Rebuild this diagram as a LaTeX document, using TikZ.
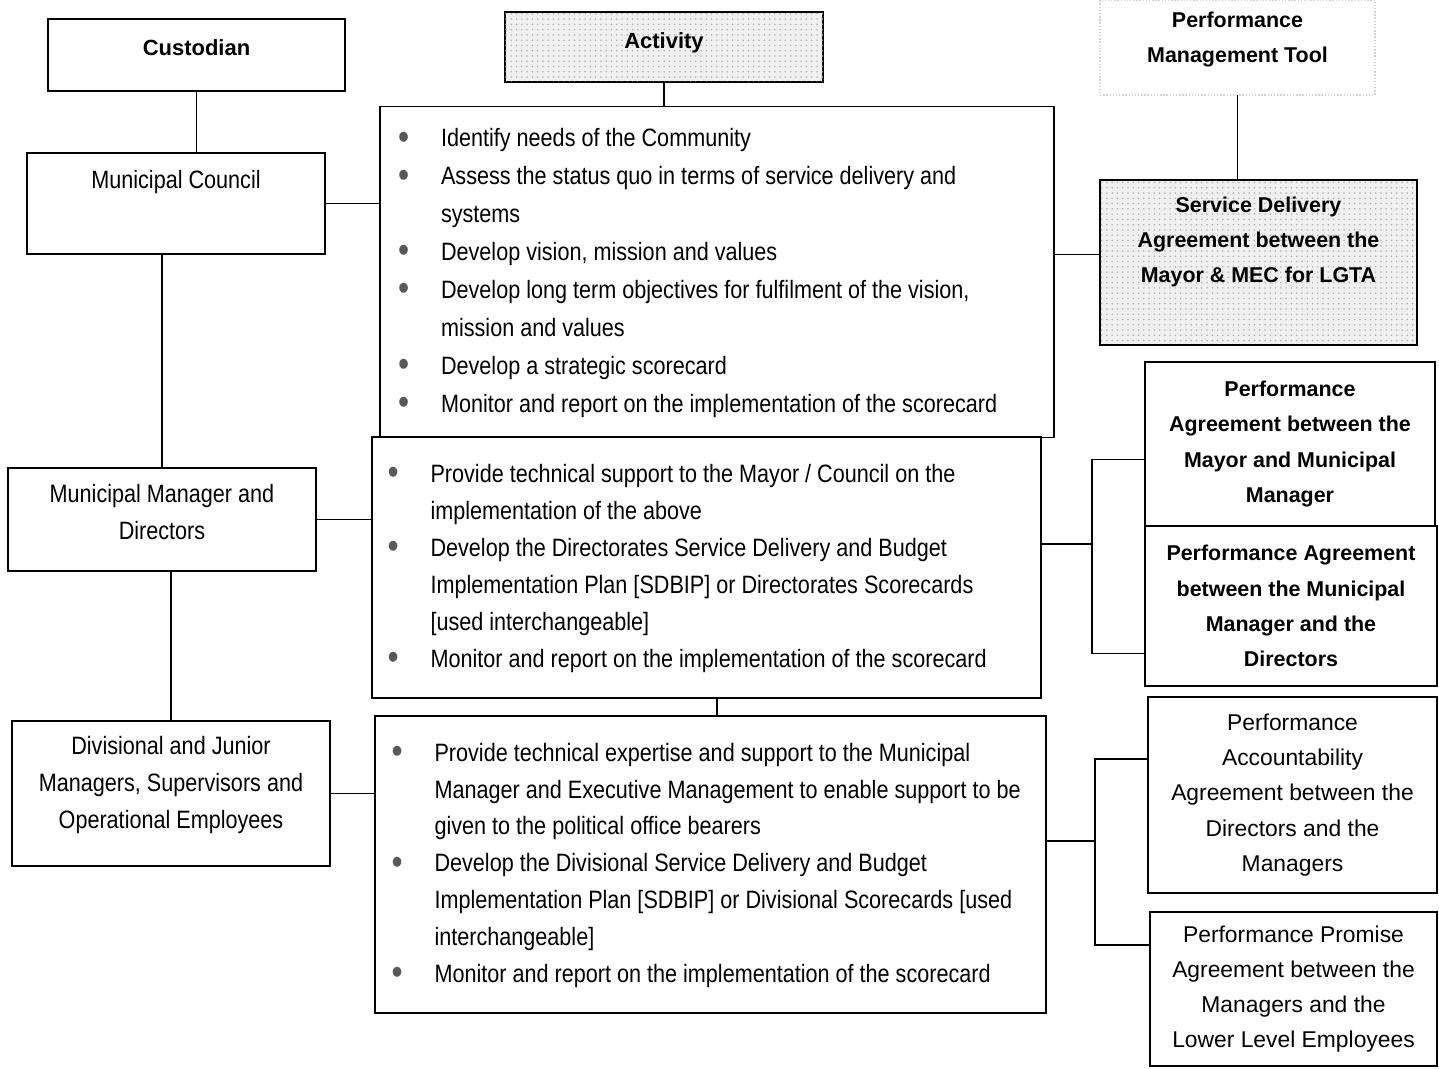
\documentclass[tikz,border=0pt]{standalone}
\usepackage{fontspec}
\setmainfont{Liberation Sans}
\newfontfamily\narrowfont[FakeStretch=0.86]{Liberation Sans}
\usetikzlibrary{patterns}
\newcommand{\nrw}{\narrowfont\fontsize{14.3}{21}\selectfont}
\newcommand{\bu}{\makebox[0.86cm][l]{\textcolor{black!65}{\fontsize{21}{21}\selectfont\raisebox{-1.3pt}{\textbullet}}}}
\newcommand{\actlist}[1]{\makebox[12.76cm][l]{\begin{tabular}{@{}l@{}l@{}}#1\end{tabular}}}

\begin{document}
\begin{tikzpicture}[x=0.02cm,y=-0.02cm,inner sep=0pt,outer sep=0pt,line width=0.8pt,
hdrbox/.style={draw,rectangle,align=center,font=\bfseries\fontsize{12.5}{15}\selectfont},
orgbox/.style={draw,rectangle,align=center,font=\nrw},
actbox/.style={draw,rectangle,inner xsep=0.3cm,font=\nrw},
toolbox/.style={draw,rectangle,align=center,font=\bfseries\fontsize{12.2}{20}\selectfont},
agrbox/.style={draw,rectangle,align=center,font=\fontsize{13}{20}\selectfont},
dotfill/.style={fill=gray!12,postaction={pattern=dots,pattern color=gray!60}}]
\useasboundingbox (0,0) rectangle (1439,1068);
\draw (196.5,55) node[hdrbox,minimum width=5.94cm,minimum height=1.44cm] (cust) {Custodian\\[-10.6pt]\strut};
\draw (664,47) node[hdrbox,dotfill,minimum width=6.36cm,minimum height=1.4cm] (act) {Activity\\[-11.6pt]\strut};
\draw (1237.5,47.5) node[toolbox,draw=gray!35,densely dotted,minimum width=5.5cm,minimum height=1.9cm] (tool) {Performance\\Management Tool\\[-14.5pt]\strut};
\draw (176,203.5) node[orgbox,minimum width=5.96cm,minimum height=2.02cm] (council) {Municipal Council\\\strut};
\draw (162,519.5) node[orgbox,minimum width=6.16cm,minimum height=2.06cm] (mmd) {Municipal Manager and\\Directors\\[-18.8pt]\strut};
\draw (171,793.5) node[orgbox,minimum width=6.36cm,minimum height=2.9cm] (junior) {Divisional and Junior\\Managers, Supervisors and\\Operational Employees\\[-14.6pt]\strut};
\draw (717,272) node[actbox,font=\narrowfont\fontsize{14.3}{21.6}\selectfont,minimum width=13.48cm,minimum height=6.62cm] (stratlist) {\actlist{
\bu & Identify needs of the Community\\
\bu & Assess the status quo in terms of service delivery and\\
 & systems\\
\bu & Develop vision, mission and values\\
\bu & Develop long term objectives for fulfilment of the vision,\\
 & mission and values\\
\bu & Develop a strategic scorecard\\
\bu & Monitor and report on the implementation of the scorecard}};
\draw (706.5,567.5) node[actbox,minimum width=13.38cm,minimum height=5.22cm] (dirlist) {\actlist{
\bu & Provide technical support to the Mayor / Council on the\\
 & implementation of the above\\
\bu & Develop the Directorates Service Delivery and Budget\\
 & Implementation Plan [SDBIP] or Directorates Scorecards\\
 & [used interchangeable]\\
\bu & Monitor and report on the implementation of the scorecard}};
\draw (710.5,864.5) node[actbox,minimum width=13.42cm,minimum height=5.94cm] (divlist) {\actlist{
\bu & Provide technical expertise and support to the Municipal\\
 & Manager and Executive Management to enable support to be\\
 & given to the political office bearers\\
\bu & Develop the Divisional Service Delivery and Budget\\
 & Implementation Plan [SDBIP] or Divisional Scorecards [used\\
 & interchangeable]\\
\bu & Monitor and report on the implementation of the scorecard}};
\draw (1258.5,262.5) node[toolbox,dotfill,minimum width=6.34cm,minimum height=3.3cm] (sda) {Service Delivery\\Agreement between the\\Mayor \& MEC for LGTA\\\strut};
\draw (1290,444) node[toolbox,minimum width=5.8cm,minimum height=3.28cm] (pamm) {Performance\\Agreement between the\\Mayor and Municipal\\Manager};
\draw (1291,606) node[toolbox,minimum width=5.84cm,minimum height=3.2cm] (padir) {Performance Agreement\\between the Municipal\\Manager and the\\Directors};
\draw (1292.5,795) node[agrbox,minimum width=5.78cm,minimum height=3.92cm] (paa) {Performance\\Accountability\\Agreement between the\\Directors and the\\Managers};
\draw (1293.5,989) node[agrbox,minimum width=5.74cm,minimum height=3.08cm] (ppa) {Performance Promise\\Agreement between the\\Managers and the\\Lower Level Employees};
\draw (cust.south) -- (cust.south |- council.north);
\draw (mmd.north) -- (mmd.north |- council.south);
\draw (junior.north) -- (junior.north |- mmd.south);
\draw (act.south) -- (act.south |- stratlist.north);
\draw (stratlist.south) -- (stratlist.south |- dirlist.north);
\draw (stratlist.south |- dirlist.south) -- (stratlist.south |- divlist.north);
\draw (council.east) -- (council.east -| stratlist.west);
\draw (mmd.east) -- (mmd.east -| dirlist.west);
\draw (junior.east) -- (junior.east -| divlist.west);
\draw (tool.south) -- (tool.south |- sda.north);
\draw (stratlist.3) -- (stratlist.3 -| sda.west);
\draw (dirlist.4) -- ++(51,0) coordinate (dirjoin);
\draw (pamm.186) -| (dirjoin) |- (padir.198);
\draw (divlist.4) -- ++(49,0) coordinate (divjoin);
\draw (paa.166) -| (divjoin) |- (ppa.163);

\end{tikzpicture}
\end{document}
